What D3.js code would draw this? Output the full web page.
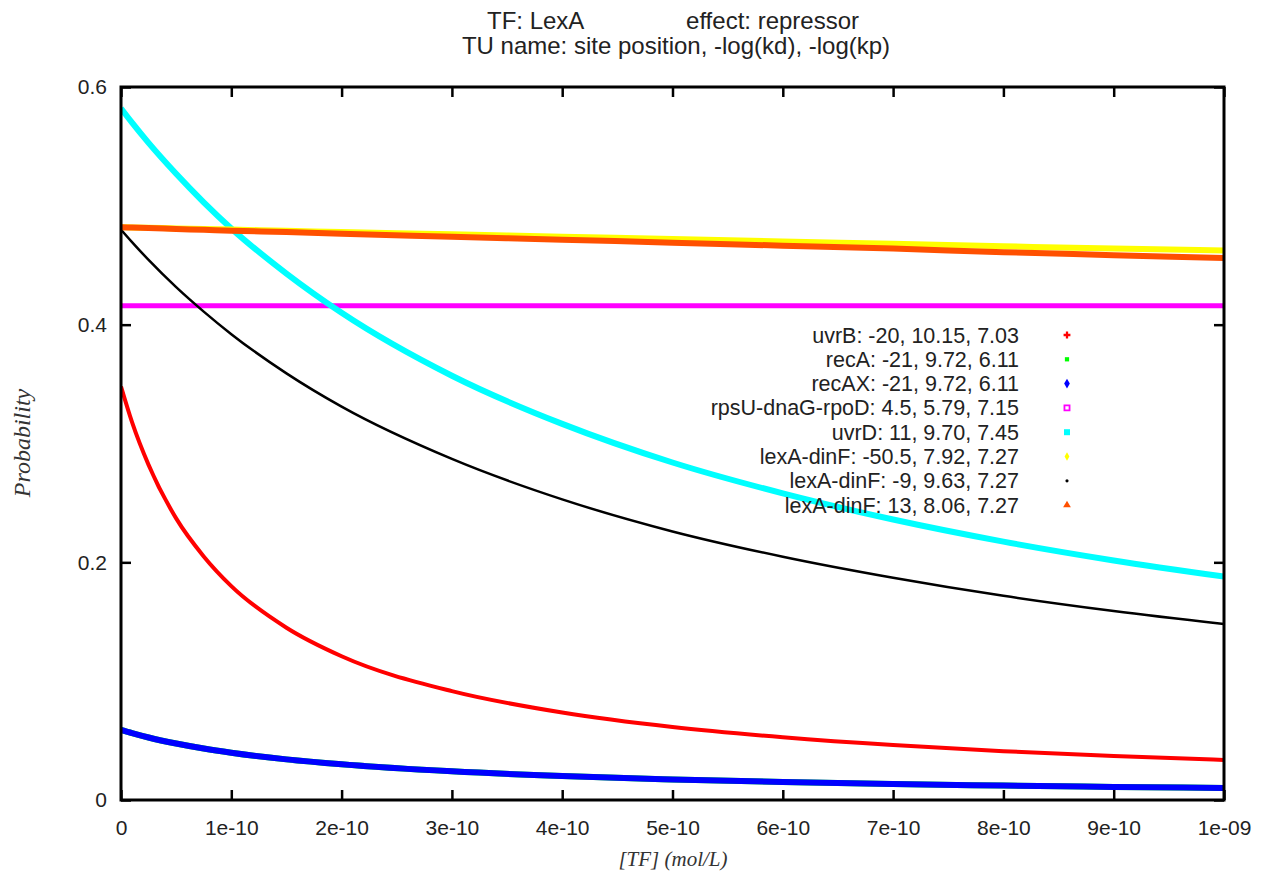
<!DOCTYPE html>
<html>
<head>
<meta charset="utf-8">
<script src="https://cdn.jsdelivr.net/npm/d3@7"></script>
<style>
  body { margin: 0; background: #fff; }
  svg { display: block; }
  .sans { font-family: "Liberation Sans", Arial, sans-serif; fill: #222; }
  .serif { font-family: "Liberation Serif", "Times New Roman", serif; font-style: italic; fill: #333; }
</style>
</head>
<body>
<svg id="chart" width="1269" height="878"></svg>
<script>
// [TF] in units of 1e-10 mol/L where the curves were read
var conc = [0, 0.1, 0.25, 0.5, 0.75, 1, 1.5, 2, 3, 4, 5, 6, 7, 8, 9, 10];

var uvrB = [0.348, 0.318, 0.282, 0.237, 0.205, 0.180, 0.145, 0.121, 0.0916, 0.0736, 0.0614, 0.0528, 0.0462, 0.0411, 0.037, 0.0337];
var recA = [0.059, 0.0563, 0.0526, 0.0475, 0.0433, 0.0398, 0.0342, 0.030, 0.0241, 0.0201, 0.0173, 0.0151, 0.0134, 0.0121, 0.011, 0.0101];
var recAX = [0.059, 0.0563, 0.0526, 0.0475, 0.0433, 0.0398, 0.0342, 0.030, 0.0241, 0.0201, 0.0173, 0.0151, 0.0134, 0.0121, 0.011, 0.0101];
var rpsU = [0.416, 0.416, 0.416, 0.416, 0.416, 0.416, 0.416, 0.416, 0.416, 0.416, 0.416, 0.416, 0.416, 0.416, 0.416, 0.416];
var uvrD = [0.582, 0.570, 0.553, 0.527, 0.503, 0.481, 0.443, 0.410, 0.357, 0.3165, 0.284, 0.258, 0.236, 0.2174, 0.2016, 0.188];
var lexA1 = [0.482, 0.4818, 0.4815, 0.481, 0.4805, 0.480, 0.479, 0.478, 0.476, 0.474, 0.472, 0.470, 0.468, 0.466, 0.464, 0.4625];
var lexA2 = [0.480, 0.4695, 0.4545, 0.4316, 0.411, 0.392, 0.359, 0.331, 0.287, 0.253, 0.226, 0.2047, 0.187, 0.1718, 0.159, 0.148];
var lexA3 = [0.482, 0.4817, 0.4813, 0.4805, 0.4798, 0.479, 0.478, 0.4765, 0.474, 0.4715, 0.469, 0.4665, 0.464, 0.461, 0.4585, 0.456];

var names = ['uvrB: -20, 10.15, 7.03', 'recA: -21, 9.72, 6.11', 'recAX: -21, 9.72, 6.11',
  'rpsU-dnaG-rpoD: 4.5, 5.79, 7.15', 'uvrD: 11, 9.70, 7.45', 'lexA-dinF: -50.5, 7.92, 7.27',
  'lexA-dinF: -9, 9.63, 7.27', 'lexA-dinF: 13, 8.06, 7.27'];
var colors = ['#ff0000', '#00ff00', '#0000ff', '#ff00ff', '#00ffff', '#ffff00', '#000000', '#ff5000'];
var widths = [4, 6, 6, 5, 6, 6, 2.5, 6];

var xTicks = [0, 1e-10, 2e-10, 3e-10, 4e-10, 5e-10, 6e-10, 7e-10, 8e-10, 9e-10, 1e-9];
var xTickLabels = ['0', '1e-10', '2e-10', '3e-10', '4e-10', '5e-10', '6e-10', '7e-10', '8e-10', '9e-10', '1e-09'];
var yTicks = [0, 0.2, 0.4, 0.6];
var yTickLabels = ['0', '0.2', '0.4', '0.6'];

var series = [uvrB, recA, recAX, rpsU, uvrD, lexA1, lexA2, lexA3];

var svg = d3.select('#chart');
var pLeft = 121, pRight = 1224, pTop = 87, pBottom = 800;
var tickLen = 10;

var x = d3.scaleLinear().domain([0, 1e-9]).range([pLeft, pRight]);
var y = d3.scaleLinear().domain([0, 0.6]).range([pBottom, pTop]);

svg.append('defs').append('clipPath').attr('id', 'plot')
    .append('rect')
    .attr('x', pLeft).attr('y', pTop)
    .attr('width', pRight - pLeft).attr('height', pBottom - pTop);

// title
svg.append('text').attr('class', 'sans')
    .attr('x', 487).attr('y', 29)
    .style('font-size', '24px')
    .text('TF: LexA');
svg.append('text').attr('class', 'sans')
    .attr('x', 859).attr('y', 29)
    .attr('text-anchor', 'end')
    .style('font-size', '24px')
    .text('effect: repressor');
svg.append('text').attr('class', 'sans')
    .attr('x', 676).attr('y', 54)
    .attr('text-anchor', 'middle')
    .style('font-size', '24px')
    .text('TU name: site position, -log(kd), -log(kp)');

// curves
var line = d3.line()
    .x(function (d) { return x(d[0] * 1e-10); })
    .y(function (d) { return y(d[1]); })
    .curve(d3.curveMonotoneX);

var curves = svg.append('g').attr('clip-path', 'url(#plot)');
series.forEach(function (s, i) {
    curves.append('path')
        .attr('d', line(conc.map(function (c, j) { return [c, s[j]]; })))
        .attr('fill', 'none')
        .attr('stroke', colors[i])
        .attr('stroke-width', widths[i]);
});

// axes, ticks on all four sides pointing inwards
var frame = svg.append('g');
frame.append('g')
    .attr('transform', 'translate(0,' + pBottom + ')')
    .call(d3.axisBottom(x).tickValues(xTicks).tickSize(-tickLen).tickPadding(20)
        .tickFormat(function (d, i) { return xTickLabels[i]; }));
frame.append('g')
    .attr('transform', 'translate(0,' + pTop + ')')
    .call(d3.axisTop(x).tickValues(xTicks).tickSize(-tickLen).tickFormat(''));
frame.append('g')
    .attr('transform', 'translate(' + pLeft + ',0)')
    .call(d3.axisLeft(y).tickValues(yTicks).tickSize(-tickLen).tickPadding(14)
        .tickFormat(function (d, i) { return yTickLabels[i]; }));
frame.append('g')
    .attr('transform', 'translate(' + pRight + ',0)')
    .call(d3.axisRight(y).tickValues(yTicks).tickSize(-tickLen).tickFormat(''));
frame.selectAll('.domain').remove();
frame.selectAll('.tick line').attr('stroke', '#000').attr('stroke-width', 2.5);
frame.selectAll('.tick text')
    .attr('class', 'sans')
    .style('font-size', '21px')
    .attr('fill', '#222');
frame.append('rect')
    .attr('x', pLeft).attr('y', pTop)
    .attr('width', pRight - pLeft).attr('height', pBottom - pTop)
    .attr('fill', 'none').attr('stroke', '#000').attr('stroke-width', 3);

// axis labels
svg.append('text').attr('class', 'serif')
    .attr('transform', 'translate(30,443) rotate(-90)')
    .attr('text-anchor', 'middle')
    .style('font-size', '24px')
    .text('Probability');
svg.append('text').attr('class', 'serif')
    .attr('x', 673).attr('y', 866)
    .attr('text-anchor', 'middle')
    .style('font-size', '21px')
    .text('[TF] (mol/L)');

// legend
var key = svg.append('g');
var rowY = d3.scaleLinear().domain([0, 1]).range([335, 359.3]);
var shapes = [d3.symbolCross, d3.symbolSquare, d3.symbolDiamond, d3.symbolSquare,
    d3.symbolSquare, d3.symbolDiamond, d3.symbolCircle, d3.symbolTriangle];
var sizes = [26, 18, 28, 26, 36, 20, 8, 26];
names.forEach(function (n, i) {
    var cy = rowY(i);
    key.append('text').attr('class', 'sans')
        .attr('x', 1019).attr('y', cy + 7.5)
        .attr('text-anchor', 'end')
        .style('font-size', '21.5px')
        .text(n);
    var sym = key.append('path')
        .attr('transform', 'translate(1067,' + cy + ')')
        .attr('d', d3.symbol().type(shapes[i]).size(sizes[i])());
    if (i === 3) {
        sym.attr('fill', 'none').attr('stroke', colors[i]).attr('stroke-width', 1.8);
    } else {
        sym.attr('fill', colors[i]);
    }
});
</script>
</body>
</html>
